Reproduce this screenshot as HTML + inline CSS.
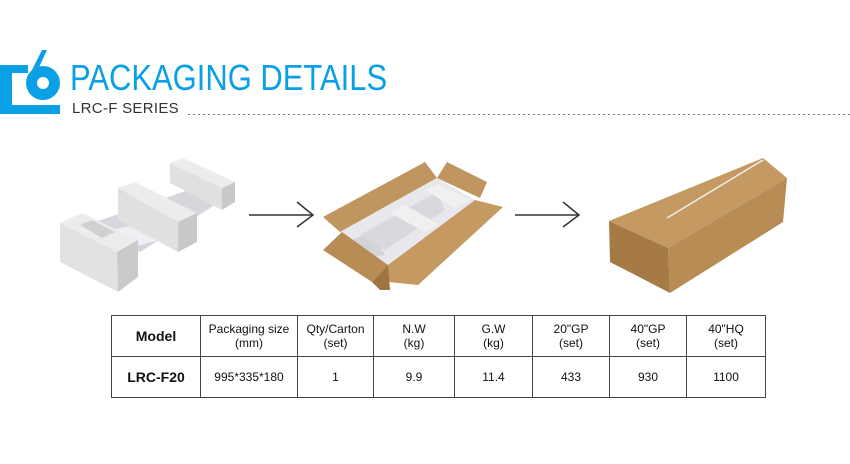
<!DOCTYPE html>
<html><head><meta charset="utf-8"><style>
html,body{margin:0;padding:0;background:#fff;}
body{width:850px;height:464px;position:relative;overflow:hidden;font-family:"Liberation Sans",sans-serif;}
.t{position:absolute;white-space:nowrap;}
table{position:absolute;left:111px;top:315px;border-collapse:collapse;width:655px;}
td{border:1px solid #444;text-align:center;font-size:12px;color:#111;line-height:14px;padding:0;}
</style></head><body>
<svg width="850" height="464" style="position:absolute;left:0;top:0">
<g fill="#0aa0e6">
<rect x="0" y="65" width="28" height="8"/>
<rect x="0" y="65" width="12" height="49"/>
<rect x="0" y="105" width="60" height="9"/>
<circle cx="43" cy="83" r="17"/>
<polygon points="42,50 47,50 35,76 30,74"/>
</g>
<circle cx="43" cy="83" r="6" fill="#fff"/>
<line x1="188" y1="114.5" x2="850" y2="114.5" stroke="#777" stroke-width="1" stroke-dasharray="2,3"/>
<!-- foam -->
<polygon points="95,222 218,180 226,198 140,252" fill="#d6d6dc"/>
<polygon points="100,232 150,222 160,240 120,250" fill="#eef0f6"/>
<polygon points="170,163 183,158 235,182 222,188" fill="#ececec"/>
<polygon points="170,163 222,188 222,210 170,183" fill="#e0e0e0"/>
<polygon points="222,188 235,182 235,202 222,210" fill="#c8c8c8"/>
<polygon points="118,188 135,182 197,213 178,222" fill="#ececec"/>
<polygon points="118,188 178,222 178,252 118,220" fill="#e0e0e0"/>
<polygon points="178,222 197,213 197,242 178,252" fill="#c8c8c8"/>
<polygon points="60,223 82,213 138,240 117,252" fill="#ececec"/>
<polygon points="80,225 92,220 115,232 102,238" fill="#d0d0d0"/>
<polygon points="60,223 117,252 118,292 60,262" fill="#e2e2e2"/>
<polygon points="117,252 138,240 138,277 118,292" fill="#cacaca"/>
<g stroke="#333" stroke-width="1.5" fill="none">
<line x1="249" y1="215" x2="312" y2="215"/><polyline points="297,202 313,215 297,227"/>
<line x1="515" y1="215" x2="578" y2="215"/><polyline points="563,202 579,215 563,227"/>
</g>
<!-- open box -->
<polygon points="323,217 425,162 437,178 340,232" fill="#c09660"/>
<polygon points="447,162 487,182 480,198 437,178" fill="#c09660"/>
<polygon points="340,232 437,178 475,200 388,265" fill="#e8e8ec"/>
<polygon points="352,240 372,232 385,255 365,258" fill="#d4d4d8"/>
<polygon points="360,235 437,192 445,210 385,250" fill="#d8d8de"/>
<polygon points="390,213 405,205 440,225 425,232" fill="#f0f0f0"/>
<polygon points="425,190 438,184 470,200 455,208" fill="#f0f0f0"/>
<polygon points="323,250 342,232 388,265 372,282" fill="#b88c55"/>
<polygon points="388,265 475,200 503,207 418,285 388,282" fill="#c49a62"/>
<polygon points="372,282 388,265 390,290 380,290" fill="#a07440"/>
<!-- closed box -->
<polygon points="609,221 763,158 787,178 668,248" fill="#c49a62"/>
<polygon points="609,221 668,248 670,293 610,262" fill="#a67a45"/>
<polygon points="668,248 787,178 783,222 670,293" fill="#b88c55"/>
<line x1="667" y1="218" x2="763" y2="160" stroke="#eee" stroke-width="1.5"/>
</svg>
<div class="t" style="left:70px;top:58px;font-size:36px;color:#0aa0e6;line-height:40px;transform:scaleX(0.86);transform-origin:0 0;">PACKAGING DETAILS</div>
<div class="t" style="left:72px;top:100px;font-size:15px;color:#333;letter-spacing:0.3px;">LRC-F SERIES</div>
<table>
<tr style="height:41px"><td style="width:88px;font-size:14px;font-weight:bold">Model</td><td style="width:96px">Packaging size<br>(mm)</td><td style="width:75px">Qty/Carton<br>(set)</td><td style="width:80px">N.W<br>(kg)</td><td style="width:77px">G.W<br>(kg)</td><td style="width:76px">20"GP<br>(set)</td><td style="width:76px">40"GP<br>(set)</td><td>40"HQ<br>(set)</td></tr>
<tr style="height:41px"><td style="font-size:14px;font-weight:bold">LRC-F20</td><td>995*335*180</td><td>1</td><td>9.9</td><td>11.4</td><td>433</td><td>930</td><td>1100</td></tr>
</table>
</body></html>
